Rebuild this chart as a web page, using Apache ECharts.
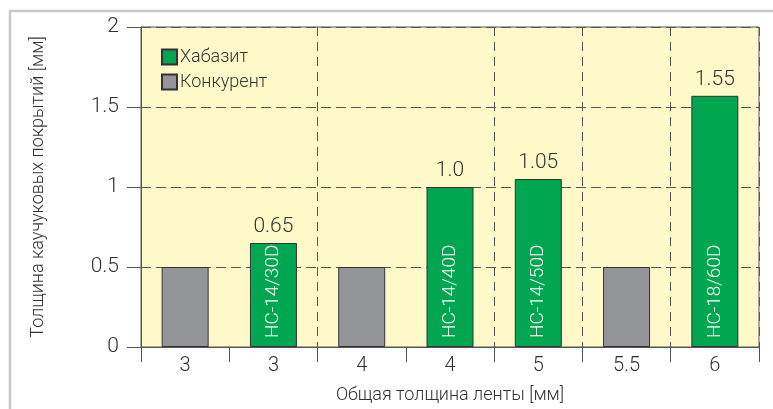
<!DOCTYPE html>
<html>
<head>
<meta charset="utf-8">
<script src="https://cdn.jsdelivr.net/npm/echarts@6/dist/echarts.min.js"></script>
<style>
html,body{margin:0;padding:0;background:#fff;}
#chart{width:773px;height:409px;}
</style>
</head>
<body>
<div id="chart"></div>
<script>
var categories = ['3', '3', '4', '4', '5', '5.5', '6'];
var habasitValues = [null, 0.65, null, 1.0, 1.05, null, 1.57];
var competitorValues = [0.5, null, 0.5, null, null, 0.5, null];
var valueLabels = ['', '0.65', '', '1.0', '1.05', '', '1.55'];
var productCodes = ['', 'HC-14/30D', '', 'HC-14/40D', 'HC-14/50D', '', 'HC-18/60D'];
var groupSeparators = [2, 4, 5, 6];
var seriesNames = ['Хабазит', 'Конкурент'];
var yAxisTitle = 'Толщина каучуковых покрытий [мм]';
var xAxisTitle = 'Общая толщина ленты [мм]';

var FONT = "Roboto, 'Liberation Sans', Arial, sans-serif";
var FW = 300;
var TXT = '#333333';
var chart = echarts.init(document.getElementById('chart'));
chart.setOption({
  animation: false,
  textStyle: {fontFamily: FONT, fontWeight: FW},
  graphic: [{
    type: 'rect', silent: true, z: -10,
    shape: {x: 10, y: 11, width: 800, height: 450},
    style: {fill: null, stroke: '#c8c8c8', lineWidth: 2.5}
  }],
  grid: {
    left: 141, right: 14, top: 27, bottom: 56,
    show: true, backgroundColor: '#fff9c9', borderColor: '#555555', borderWidth: 1,
    containLabel: false
  },
  legend: {
    orient: 'vertical', left: 161, top: 48, padding: 0, itemWidth: 15, itemHeight: 15, itemGap: 7,
    icon: 'rect',
    data: seriesNames,
    textStyle: {fontSize: 18, color: TXT, fontFamily: FONT, fontWeight: FW, padding: [0, 0, 0, -2]}
  },
  xAxis: {
    type: 'category', data: categories,
    name: xAxisTitle, nameLocation: 'middle', nameGap: 39,
    nameTextStyle: {fontSize: 18, color: TXT, fontFamily: FONT, fontWeight: FW},
    axisLine: {lineStyle: {color: '#555555', width: 1}},
    axisTick: {show: true, length: 15, alignWithLabel: false, lineStyle: {color: '#555555'}},
    axisLabel: {fontSize: 20, color: TXT, margin: 9, fontFamily: FONT, fontWeight: FW},
    splitLine: {
      show: true,
      interval: function (i) { return groupSeparators.indexOf(i) >= 0; },
      lineStyle: {color: '#555555', type: [9, 6], width: 1}
    }
  },
  yAxis: {
    type: 'value', min: 0, max: 2, interval: 0.5,
    name: yAxisTitle, nameLocation: 'middle', nameGap: 94,
    nameTextStyle: {fontSize: 18, color: TXT, fontFamily: FONT, fontWeight: FW},
    axisLine: {show: true, lineStyle: {color: '#555555'}},
    axisTick: {show: true, length: 14, lineStyle: {color: '#555555'}},
    axisLabel: {fontSize: 21, color: TXT, margin: 22, fontFamily: FONT, fontWeight: FW},
    splitLine: {show: true, lineStyle: {color: '#555555', type: [10, 5], width: 1}}
  },
  series: [
    {
      name: seriesNames[0], type: 'bar', data: habasitValues,
      barWidth: 47, barGap: '-100%',
      itemStyle: {color: '#00a650', borderColor: '#333333', borderWidth: 1},
      label: {
        show: true, position: 'top', distance: 6, fontSize: 21, color: TXT, fontFamily: FONT, fontWeight: FW,
        formatter: function (p) { return valueLabels[p.dataIndex]; }
      }
    },
    {
      name: seriesNames[1], type: 'bar', data: competitorValues,
      barWidth: 47, barGap: '-100%',
      itemStyle: {color: '#939598', borderColor: '#333333', borderWidth: 1}
    },
    {
      name: 'codes', type: 'bar', data: habasitValues,
      barWidth: 47, barGap: '-100%', silent: true,
      itemStyle: {color: 'rgba(0,0,0,0)', borderWidth: 0},
      label: {
        show: true, position: 'insideBottom', rotate: 90, align: 'left', verticalAlign: 'middle',
        distance: 9, fontSize: 19, color: '#ffffff', fontFamily: FONT, fontWeight: 300,
        formatter: function (p) { return productCodes[p.dataIndex]; }
      }
    }
  ]
});
</script>
</body>
</html>
